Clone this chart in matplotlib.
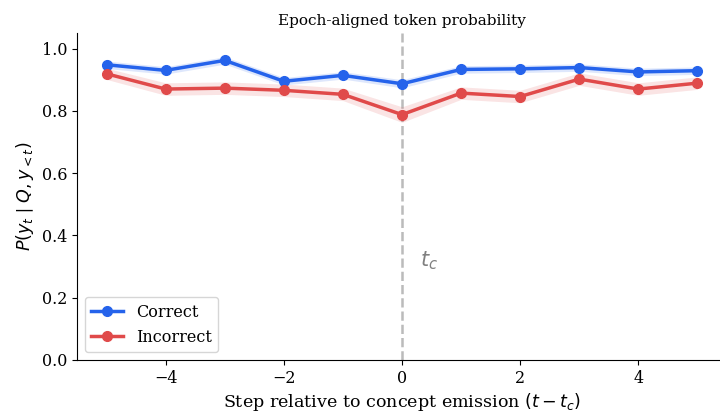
import matplotlib
matplotlib.use('Agg')
import matplotlib.pyplot as plt
import numpy as np

plt.rcParams['font.family'] = ['DejaVu Serif']

steps = np.arange(-5, 6)
correct = [0.948, 0.930, 0.962, 0.895, 0.914, 0.887, 0.933, 0.935, 0.939, 0.925, 0.929]
correct_err = [0.012, 0.012, 0.012, 0.012, 0.012, 0.013, 0.012, 0.012, 0.012, 0.012, 0.012]
incorrect = [0.919, 0.870, 0.873, 0.866, 0.853, 0.788, 0.857, 0.846, 0.902, 0.870, 0.889]
incorrect_err = [0.018, 0.020, 0.020, 0.020, 0.020, 0.025, 0.020, 0.020, 0.020, 0.020, 0.020]

c_blue = '#2563eb'
c_red = '#e04a4a'

fig = plt.figure(figsize=(7.2, 4.17), dpi=100)
ax = fig.add_axes([77/720, 57/417, 650/720, 327/417])

for y, e, col, lab in [(correct, correct_err, c_blue, 'Correct'),
                       (incorrect, incorrect_err, c_red, 'Incorrect')]:
    y = np.array(y)
    e = np.array(e)
    ax.fill_between(steps, y - e, y + e, color=col, alpha=0.15, linewidth=0)
    ax.plot(steps, y, '-o', color=col, lw=2.5, ms=7, label=lab)

ax.axvline(0, color='#bbbbbb', ls='--', lw=1.8, zorder=0)
ax.text(0.3, 0.3, '$t_c$', color='gray', fontsize=15)

ax.set_xlim(-5.5, 5.5)
ax.set_ylim(0, 1.05)
ax.set_yticks([0, 0.2, 0.4, 0.6, 0.8, 1.0])
ax.set_xticks([-4, -2, 0, 2, 4])
ax.tick_params(labelsize=11.5)
ax.spines['top'].set_visible(False)
ax.spines['right'].set_visible(False)
ax.set_xlabel('Step relative to concept emission $(t - t_c)$', fontsize=12.6, labelpad=3)
ax.set_ylabel('$P(y_t \\mid Q, y_{<t})$', fontsize=12.6)
ax.set_title('Epoch-aligned token probability', fontsize=11)
ax.legend(loc='lower left', fontsize=11.5)

plt.savefig('out.png', dpi=100)
